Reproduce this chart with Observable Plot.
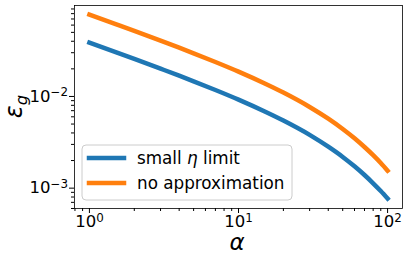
<!DOCTYPE html>
<html><head><meta charset="utf-8">
<script src="https://cdn.jsdelivr.net/npm/d3@7"></script>
<script src="https://cdn.jsdelivr.net/npm/@observablehq/plot@0.6"></script>
<style>body{margin:0;background:#fff}</style>
</head><body><div id="chart"></div>
<script>
// data
const alpha = [1, 1.5, 2, 3, 4, 5, 7, 10, 15, 20, 30, 40, 50, 60, 70, 80, 90, 100];
const smallEta = [0.0387, 0.0305, 0.0257, 0.0201, 0.01685, 0.01464, 0.01177, 0.00924, 0.00686, 0.00546, 0.00381, 0.00283, 0.00219, 0.00173, 0.00139, 0.00113, 0.00093, 0.00077];
const noApprox = [0.0780, 0.0615, 0.0519, 0.0406, 0.0340, 0.02955, 0.02376, 0.01865, 0.01385, 0.01102, 0.00768, 0.00572, 0.00442, 0.00350, 0.00281, 0.00229, 0.00188, 0.00155];
const seriesNames = ["small η limit", "no approximation"];
const seriesColors = ["#1f77b4", "#ff7f0e"];
const xMajorTicks = [1, 10, 100];
const xMinorTicks = [0.8, 0.9, 2, 3, 4, 5, 6, 7, 8, 9, 20, 30, 40, 50, 60, 70, 80, 90];
const yMajorTicks = [1e-3, 1e-2];
const yMinorTicks = [6e-4, 7e-4, 8e-4, 9e-4, 2e-3, 3e-3, 4e-3, 5e-3, 6e-3, 7e-3, 8e-3, 9e-3, 2e-2, 3e-2, 4e-2, 5e-2, 6e-2, 7e-2, 8e-2, 9e-2];
const xLabel = "α";

const rows = [];
alpha.forEach((a, i) => {
  rows.push({a, v: smallEta[i], s: seriesNames[0]});
  rows.push({a, v: noApprox[i], s: seriesNames[1]});
});

const fmt = d => "10^" + Math.round(Math.log10(d));

const svg = Plot.plot({
  width: 407, height: 260,
  marginLeft: 74, marginRight: 5, marginTop: 5, marginBottom: 52,
  style: {fontFamily: "DejaVu Sans", fontSize: "16.5px", color: "black", background: "white"},
  x: {type: "log", domain: [Math.pow(10, -0.1), Math.pow(10, 2.1)], label: null},
  y: {type: "log", domain: [Math.pow(10, -3.222), Math.pow(10, -1.008)], label: null},
  color: {domain: seriesNames, range: seriesColors},
  marks: [
    Plot.line(rows, {x: "a", y: "v", stroke: "s", z: "s", strokeWidth: 4.5, strokeLinecap: "square", curve: "monotone-x"}),
    Plot.frame({stroke: "black", strokeWidth: 0.8}),
    Plot.axisX({ticks: xMajorTicks, tickSize: 5, tickPadding: 2, tickFormat: fmt, label: null}),
    Plot.axisX({ticks: xMinorTicks, tickSize: 3, tickFormat: () => "", label: null}),
    Plot.axisY({ticks: yMajorTicks, tickSize: 5, tickPadding: 1.5, tickFormat: fmt, label: null}),
    Plot.axisY({ticks: yMinorTicks, tickSize: 3, tickFormat: () => "", label: null})
  ]
});

const root = d3.select(svg);
root.selectAll("text").each(function() {
  const m = /^10\^(.*)$/.exec(this.textContent);
  if (m) {
    const el = d3.select(this);
    el.text("");
    el.append("tspan").text("10");
    el.append("tspan").attr("dy", "-0.45em").attr("font-size", "0.72em").text(m[1].replace("-", "\u2212"));
  }
});

// axis labels
root.append("text").attr("x", 237).attr("y", 250).attr("text-anchor", "middle")
  .attr("font-size", 23).attr("font-style", "italic").attr("fill", "black").text(xLabel);
const yl = root.append("text").attr("transform", "translate(22,106.5) rotate(-90)")
  .attr("text-anchor", "middle").attr("font-style", "italic").attr("fill", "black");
yl.append("tspan").attr("font-size", 24).text("ε");
yl.append("tspan").attr("font-size", 16.5).attr("dy", "0.3em").text("g");

// legend
const lg = root.append("g").attr("text-anchor", "start");
lg.append("rect").attr("x", 82).attr("y", 145).attr("width", 210).attr("height", 55).attr("rx", 4)
  .attr("fill", "white").attr("fill-opacity", 0.8).attr("stroke", "#cccccc").attr("stroke-width", 1);
seriesNames.forEach((n, i) => {
  const y = 158 + i * 25;
  lg.append("line").attr("x1", 89).attr("x2", 124).attr("y1", y).attr("y2", y)
    .attr("stroke", seriesColors[i]).attr("stroke-width", 4.5).attr("stroke-linecap", "square");
  const t = lg.append("text").attr("x", 137).attr("y", y + 6).attr("fill", "black")
    .attr("font-size", 16.8).attr("text-anchor", "start");
  if (n.includes("η")) {
    const parts = n.split("η");
    t.append("tspan").text(parts[0]);
    t.append("tspan").attr("font-style", "italic").text("η");
    t.append("tspan").text(parts[1]);
  } else t.text(n);
});

document.getElementById("chart").appendChild(svg);
</script>
</body></html>
